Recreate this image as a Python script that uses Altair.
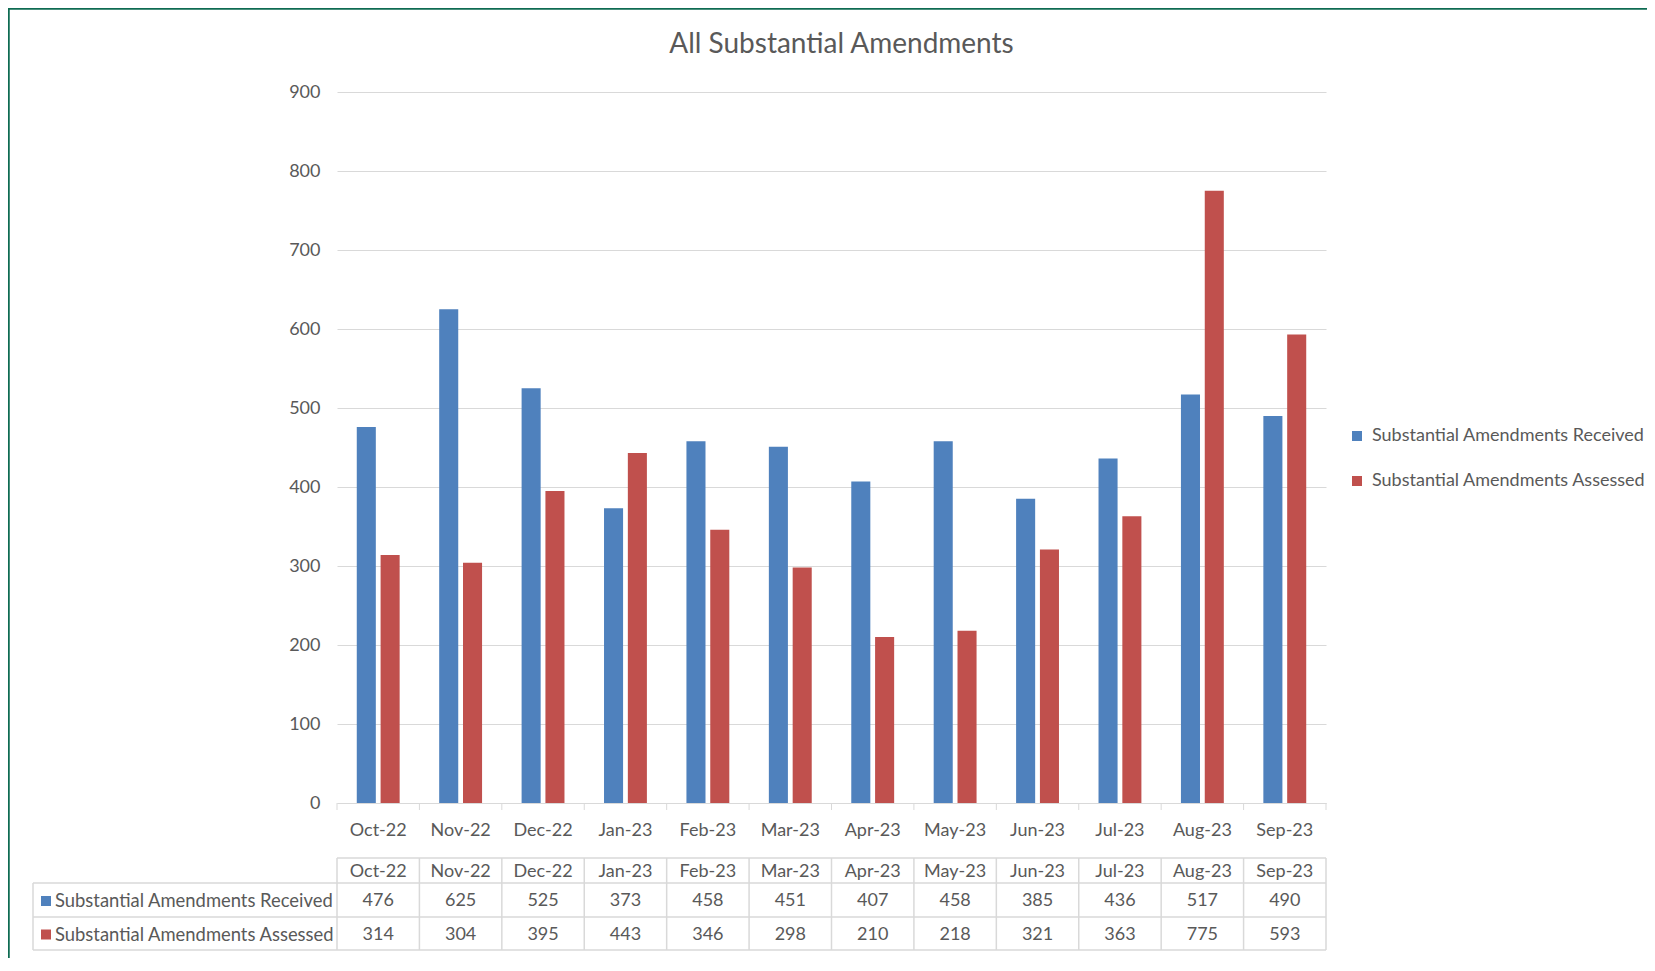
import altair as alt
import pandas as pd

months = ["Oct-22", "Nov-22", "Dec-22", "Jan-23", "Feb-23", "Mar-23",
          "Apr-23", "May-23", "Jun-23", "Jul-23", "Aug-23", "Sep-23"]
series_names = ["Substantial Amendments Received", "Substantial Amendments Assessed"]
received = [476, 625, 525, 373, 458, 451, 407, 458, 385, 436, 517, 490]
assessed = [314, 304, 395, 443, 346, 298, 210, 218, 321, 363, 775, 593]
colors = ["#4f81bd", "#c0504d"]
y_ticks = [0, 100, 200, 300, 400, 500, 600, 700, 800, 900]

rows = []
for m, r, a in zip(months, received, assessed):
    rows.append({"month": m, "series": series_names[0], "value": r})
    rows.append({"month": m, "series": series_names[1], "value": a})
df = pd.DataFrame(rows)
month_df = pd.DataFrame({"month": months})
one = pd.DataFrame({"k": [0]})

W, H = 989, 711
PL, PT, PR, PB = 329, 84, 321, 155
FONT = "Lato"
TXT = "#595959"
GRID = "#d9d9d9"
BORDER = "#0e6b52"
FS = 18

xscale = alt.Scale(domain=months, paddingInner=0, paddingOuter=0)
color_scale = alt.Scale(domain=series_names, range=colors)
x_axis = alt.Axis(title=None, labelAngle=0, ticks=False, grid=False,
                  domainColor=GRID, domainWidth=1, labelPadding=18,
                  labelColor=TXT, labelFontSize=FS, labelFont=FONT)


def xm(**kw):
    return alt.X("month:N", sort=months, scale=xscale, axis=x_axis, **kw)


# frame border (top and left)
border_left = alt.Chart(one).mark_rule(color=BORDER, strokeWidth=2.5).encode(
    x=alt.value(-PL + 0.5), y=alt.value(-PT), y2=alt.value(H + PB))
border_top = alt.Chart(one).mark_rule(color=BORDER, strokeWidth=2.5).encode(
    y=alt.value(-PT + 0.5), x=alt.value(-PL), x2=alt.value(W + PR))

bars = alt.Chart(df).mark_bar().encode(
    x=xm(),
    xOffset=alt.XOffset("series:N", sort=series_names,
                        scale=alt.Scale(domain=series_names, paddingInner=0.2, paddingOuter=0.83)),
    y=alt.Y("value:Q", scale=alt.Scale(domain=[0, 900], nice=False),
            axis=alt.Axis(values=y_ticks, title=None, domain=False, ticks=False,
                          gridColor=GRID, gridWidth=1, labelPadding=17,
                          labelColor=TXT, labelFontSize=FS, labelFont=FONT)),
    color=alt.Color("series:N", scale=color_scale, sort=series_names,
                    legend=alt.Legend(title=None, orient="none", legendX=1011, legendY=335,
                                      symbolType="square", symbolSize=100, symbolStrokeWidth=0,
                                      labelFont=FONT, labelFontSize=FS, labelColor=TXT,
                                      labelOffset=6, rowPadding=27, padding=0, labelLimit=400)),
)

# category axis tick marks at band boundaries
xticks = alt.Chart(month_df).mark_rule(color=GRID).encode(
    x=xm(bandPosition=0), y=alt.value(H), y2=alt.value(H + 7))
xtick_end = alt.Chart(one).mark_rule(color=GRID).encode(
    x=alt.value(W), y=alt.value(H), y2=alt.value(H + 7))

# data table grid
T_TOP, T_R1, T_R2, T_BOT = 766, 791, 825, 858
T_LEFT = -304
tgrid_v = alt.Chart(month_df).mark_rule(color=GRID, strokeWidth=1.5).encode(
    x=xm(bandPosition=0), y=alt.value(T_TOP), y2=alt.value(T_BOT))
tgrid_vr = alt.Chart(one).mark_rule(color=GRID, strokeWidth=1.5).encode(
    x=alt.value(W), y=alt.value(T_TOP), y2=alt.value(T_BOT))
tgrid_vl = alt.Chart(one).mark_rule(color=GRID, strokeWidth=1.5).encode(
    x=alt.value(T_LEFT), y=alt.value(T_R1), y2=alt.value(T_BOT))
tgrid_h0 = alt.Chart(one).mark_rule(color=GRID, strokeWidth=1.5).encode(
    x=alt.value(0), x2=alt.value(W), y=alt.value(T_TOP))
tgrid_h = [alt.Chart(one).mark_rule(color=GRID, strokeWidth=1.5).encode(
    x=alt.value(T_LEFT), x2=alt.value(W), y=alt.value(yy)) for yy in (T_R1, T_R2, T_BOT)]

txt_kw = dict(font=FONT, fontSize=FS, color=TXT, baseline="middle")
header = alt.Chart(month_df).mark_text(**txt_kw).encode(
    x=xm(), y=alt.value((T_TOP + T_R1) / 2 + 1.5), text="month:N")

row_layers = []
row_centers = [(T_R1 + T_R2) / 2 + 1, (T_R2 + T_BOT) / 2 + 1]
for i, name in enumerate(series_names):
    sub = alt.Chart(df).transform_filter(alt.datum.series == name)
    row_layers.append(sub.mark_text(**txt_kw).encode(
        x=xm(), y=alt.value(row_centers[i]), text="value:Q"))
    lab = alt.Chart(pd.DataFrame({"series": [name]}))
    row_layers.append(lab.mark_text(align="left", font=FONT, fontSize=18.4, color=TXT,
                                    baseline="middle").encode(
        x=alt.value(-282), y=alt.value(row_centers[i]), text="series:N"))
    row_layers.append(lab.mark_square(size=100, opacity=1, color=colors[i]).encode(
        x=alt.value(-291), y=alt.value(row_centers[i])))

chart = alt.layer(
    border_left, border_top, bars, xticks, xtick_end,
    tgrid_v, tgrid_vr, tgrid_vl, tgrid_h0, *tgrid_h, header, *row_layers
).properties(
    width=W, height=H,
    background="white",
    title=alt.TitleParams("All Substantial Amendments", font=FONT, fontSize=28, color=TXT,
                          fontWeight="normal", anchor="middle", frame="group",
                          offset=-74, baseline="alphabetic", dx=10),
    autosize=alt.AutoSizeParams(type="none"),
    padding={"left": PL, "top": PT, "right": PR, "bottom": PB},
).configure_view(strokeWidth=0, stroke=None)

chart.save("out.html", embed_options={"renderer": "svg", "actions": False})
